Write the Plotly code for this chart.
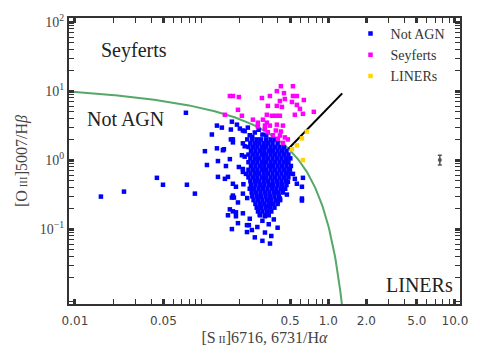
import plotly.graph_objects as go

# ---------------- data (log10 values) ----------------
# Not AGN: dense core, row by row (log [OIII]/Hb per row, list of log [SII]/Ha)
core_row_logy = [0.30, 0.245, 0.19, 0.135, 0.08, 0.025, -0.03, -0.085, -0.14, -0.195, -0.25,
                 -0.305, -0.36, -0.415, -0.47, -0.525, -0.58, -0.635, -0.69, -0.745, -0.80]
core_row_logx = [
    [-0.60, -0.565, -0.53, -0.49, -0.455, -0.42],
    [-0.615, -0.58, -0.545, -0.51, -0.475, -0.44, -0.40],
    [-0.63, -0.595, -0.56, -0.525, -0.49, -0.455, -0.42, -0.385, -0.35],
    [-0.61, -0.575, -0.54, -0.505, -0.47, -0.435, -0.40, -0.365, -0.33],
    [-0.63, -0.595, -0.56, -0.525, -0.49, -0.455, -0.42, -0.385, -0.35, -0.315],
    [-0.615, -0.58, -0.545, -0.51, -0.475, -0.44, -0.405, -0.37, -0.335, -0.30],
    [-0.63, -0.595, -0.56, -0.525, -0.49, -0.455, -0.42, -0.385, -0.35, -0.315],
    [-0.61, -0.575, -0.54, -0.505, -0.47, -0.435, -0.40, -0.365, -0.33, -0.295],
    [-0.63, -0.595, -0.56, -0.525, -0.49, -0.455, -0.42, -0.385, -0.35, -0.315],
    [-0.615, -0.58, -0.545, -0.51, -0.475, -0.44, -0.405, -0.37, -0.335, -0.30],
    [-0.63, -0.595, -0.56, -0.525, -0.49, -0.455, -0.42, -0.385, -0.35, -0.315],
    [-0.615, -0.58, -0.545, -0.51, -0.475, -0.44, -0.405, -0.37, -0.335],
    [-0.61, -0.575, -0.54, -0.505, -0.47, -0.435, -0.40, -0.365, -0.33],
    [-0.62, -0.585, -0.55, -0.515, -0.48, -0.445, -0.41, -0.375, -0.34],
    [-0.605, -0.57, -0.535, -0.50, -0.465, -0.43, -0.395, -0.36],
    [-0.60, -0.565, -0.53, -0.495, -0.46, -0.425, -0.39],
    [-0.59, -0.555, -0.52, -0.485, -0.45, -0.415, -0.38],
    [-0.575, -0.54, -0.505, -0.47, -0.435, -0.40],
    [-0.565, -0.53, -0.495, -0.46, -0.425],
    [-0.555, -0.52, -0.485, -0.45],
    [-0.54, -0.50, -0.47],
]
# Not AGN: scattered points around the core
notagn_logx = [-1.795, -1.613, -1.353, -1.305, -1.124, -1.116, -1.053,
               -0.974, -0.879, -0.832, -0.824, -0.769, -0.753, -0.674, -0.682, -0.777,
               -0.871, -0.958, -0.808, -0.706, -0.674, -0.674, -0.871, -0.816, -0.792,
               -0.753, -0.729, -0.674, -0.753,
               -0.879, -0.840, -0.919, -0.761, -0.769, -0.721, -0.698, -0.674, -0.753, -0.635,
               -0.761, -0.745, -0.713, -0.777, -0.753, -0.729, -0.792, -0.729, -0.713, -0.761,
               -0.642, -0.627, -0.642, -0.603, -0.674,
               -0.327, -0.208, -0.500, -0.540, -0.477, -0.398,
               -0.319, -0.303, -0.279, -0.264, -0.200, -0.248, -0.208, -0.319, -0.358, -0.208, -0.382,
               -0.58, -0.62, -0.52, -0.55, -0.66, -0.49, -0.60, -0.64,
               -0.52, -0.47, -0.56, -0.43, -0.50, -0.45, -0.58, -0.40, -0.62, -0.52, -0.46,
               -0.66, -0.65, -0.67, -0.64, -0.66]
notagn_logy = [-0.529, -0.457, -0.257, -0.357, 0.686, -0.357, -0.486,
               0.129, 0.171, 0.143, 0.157, 0.300, 0.257, 0.243, 0.071, 0.014,
               -0.014, -0.071, -0.086, -0.100, -0.129, -0.171, -0.243, -0.271, -0.243,
               -0.343, -0.386, -0.486, -0.514,
               0.500, 0.471, 0.371, 0.557, 0.443, 0.514, 0.457, 0.429, 0.300, 0.471,
               -0.543, -0.543, -0.614, -0.714, -0.743, -0.757, -0.800, -0.814, -0.914, -1.000,
               -0.943, -0.943, -1.043, -1.014, -0.771,
               -0.500, -0.586, -0.814, -0.786, -0.671, -0.600,
               -0.029, -0.129, -0.200, -0.271, -0.257, -0.343, -0.386, -0.314, -0.457, -0.557, -0.557,
               0.40, 0.36, 0.37, 0.44, 0.42, 0.36, 0.34, 0.30,
               -0.88, -0.93, -0.97, -0.86, -1.05, -1.10, -1.12, -0.98, -0.85, -1.17, -1.21,
               0.05, -0.20, -0.35, -0.55, 0.20]

seyfert_logx = [-0.777, -0.753, -0.706, -0.524, -0.461, -0.406, -0.374, -0.279, -0.350, -0.343,
                -0.279, -0.248, -0.193, -0.287, -0.382, -0.477, -0.406, -0.366, -0.248, -0.224,
                -0.200, -0.264, -0.114, -0.485, -0.445, -0.414, -0.382, -0.516, -0.485, -0.406,
                -0.358, -0.461, -0.500, -0.414, -0.374, -0.500, -0.477, -0.437, -0.382, -0.343,
                -0.319, -0.713, -0.682, -0.816, -0.595, -0.556, -0.556, -0.398, -0.358]
seyfert_logy = [0.929, 0.929, 0.914, 0.900, 0.929, 1.000, 1.071, 1.071, 0.971, 0.886,
                0.929, 0.929, 0.871, 0.843, 0.857, 0.786, 0.786, 0.771, 0.800, 0.743,
                0.671, 0.657, 0.700, 0.657, 0.643, 0.643, 0.643, 0.586, 0.543, 0.514,
                0.500, 0.500, 0.500, 0.429, 0.414, 0.450, 0.405, 0.360, 0.357, 0.329,
                0.300, 0.729, 0.643, 0.657, 0.586, 0.543, 0.490, 0.310, 0.250]

liner_logx = [-0.169, -0.208, -0.248, -0.287, -0.200]
liner_logy = [0.414, 0.314, 0.214, 0.157, 0.000]

# typical error bar (value and +/- dex)
err_x = [7.6]
err_y = [1.0]
err_dex = [0.07]

# demarcation lines (Kewley et al. 2006)
kew_a, kew_b, kew_c = 0.72, 0.32, 1.30
sy_slope, sy_icpt = 1.89, 0.76

x_ticks = [0.01, 0.05, 0.5, 1.0, 2.0, 5.0, 10.0]
x_ticktext = ["0.01", "0.05", "0.5", "1.0", "2.0", "5.0", "10.0"]
y_ticks = [0.1, 1, 10, 100]
y_ticktext = ["10<sup>\u22121</sup>", "10<sup>0</sup>", "10<sup>1</sup>", "10<sup>2</sup>"]

# ---------------- build ----------------
na_x = [10 ** v for v in notagn_logx]
na_y = [10 ** v for v in notagn_logy]
for ly, row in zip(core_row_logy, core_row_logx):
    for lx in row:
        na_x.append(10 ** lx)
        na_y.append(10 ** ly)

XR = [-2.047, 1.04]
YR = [-2.086, 2.06]

# Kewley curve
kx, ky = [], []
n = 300
x_end = kew_b + kew_a / (YR[0] - 0.01 - kew_c)
for i in range(n + 1):
    lx = XR[0] + (x_end - XR[0]) * i / n
    kx.append(10 ** lx)
    ky.append(10 ** (kew_a / (lx - kew_b) + kew_c))

# Seyfert/LINER line from intersection with Kewley curve
lo, hi = -0.6, 0.0
for _ in range(60):
    mid = 0.5 * (lo + hi)
    f = sy_slope * mid + sy_icpt - (kew_a / (mid - kew_b) + kew_c)
    if f > 0:
        hi = mid
    else:
        lo = mid
x0 = 0.5 * (lo + hi)
x1 = 0.11
sx = [10 ** x0, 10 ** x1]
sy = [10 ** (sy_slope * x0 + sy_icpt), 10 ** (sy_slope * x1 + sy_icpt)]

serif = "Liberation Serif"

fig = go.Figure()
fig.add_trace(go.Scatter(x=kx, y=ky, mode="lines", line=dict(color="#55A868", width=2),
                         showlegend=False, hoverinfo="skip"))
fig.add_trace(go.Scatter(x=sx, y=sy, mode="lines", line=dict(color="black", width=2),
                         showlegend=False, hoverinfo="skip"))
fig.add_trace(go.Scatter(x=na_x, y=na_y, mode="markers", name="Not AGN",
                         marker=dict(symbol="square", size=4.5, color="#0000FF", line=dict(width=0))))
fig.add_trace(go.Scatter(x=[10 ** v for v in seyfert_logx], y=[10 ** v for v in seyfert_logy],
                         mode="markers", name="Seyferts",
                         marker=dict(symbol="square", size=4.5, color="#FF00FF", line=dict(width=0))))
fig.add_trace(go.Scatter(x=[10 ** v for v in liner_logx], y=[10 ** v for v in liner_logy],
                         mode="markers", name="LINERs",
                         marker=dict(symbol="square", size=4.5, color="#FFD700", line=dict(width=0))))
fig.add_trace(go.Scatter(x=err_x, y=err_y, mode="markers", showlegend=False,
                         marker=dict(symbol="circle", size=4, color="#555555"),
                         error_y=dict(type="data", symmetric=False,
                                      array=[y * (10 ** d - 1) for y, d in zip(err_y, err_dex)],
                                      arrayminus=[y * (1 - 10 ** -d) for y, d in zip(err_y, err_dex)],
                                      color="#555555", thickness=1.5, width=2)))

minor_x = [m * 10 ** e for e in range(-3, 2) for m in range(1, 10)]
minor_x = [v for v in minor_x if all(abs(v - t) / t > 1e-6 for t in x_ticks)]
minor_y = [m * 10 ** e for e in range(-3, 3) for m in range(2, 10)]

axis_common = dict(showline=True, linecolor="#333333", linewidth=2, mirror="ticks",
                   ticks="inside", ticklen=5, tickwidth=3, tickcolor="#333333",
                   showgrid=False, zeroline=False)

fig.update_xaxes(type="log", range=XR, tickvals=x_ticks, ticktext=x_ticktext,
                 tickfont=dict(family="DejaVu Sans", size=12, color="#444444"),
                 ticklabelstandoff=5,
                 minor=dict(tickvals=minor_x, ticks="inside", ticklen=5, tickwidth=1,
                            tickcolor="#333333", showgrid=False),
                 title=dict(text="[S<span style='font-size:11px'> II</span>]6716, 6731/H<i>\u03b1</i>",
                            font=dict(family=serif, size=16, color="#444444"), standoff=4),
                 **axis_common)
fig.update_yaxes(type="log", range=YR, tickvals=y_ticks, ticktext=y_ticktext,
                 tickfont=dict(family=serif, size=14, color="#444444"),
                 minor=dict(tickvals=minor_y, ticks="inside", ticklen=5, tickwidth=1,
                            tickcolor="#333333", showgrid=False),
                 title=dict(text="[O<span style='font-size:11px'> III</span>]5007/H<i>\u03b2</i>",
                            font=dict(family=serif, size=16, color="#444444"), standoff=8),
                 **axis_common)

for txt, lx, ly in [("Seyferts", -1.53, 1.59), ("Not AGN", -1.60, 0.60), ("LINERs", 0.72, -1.814)]:
    fig.add_annotation(x=lx, y=ly, xref="x", yref="y", text=txt, showarrow=False,
                       font=dict(family=serif, size=20, color="#222222"))

fig.update_layout(
    width=480, height=360,
    margin=dict(l=69, r=20, t=14, b=56),
    paper_bgcolor="white", plot_bgcolor="white",
    legend=dict(x=0.72, y=1.0, xanchor="left", yanchor="top",
                font=dict(family=serif, size=14, color="#333333"),
                bgcolor="rgba(0,0,0,0)", borderwidth=0, itemwidth=30, tracegroupgap=0),
    showlegend=True,
)

fig.write_html("out.html", config={"displayModeBar": False},
               post_script="document.body.style.margin='0';document.body.style.padding='0';")
